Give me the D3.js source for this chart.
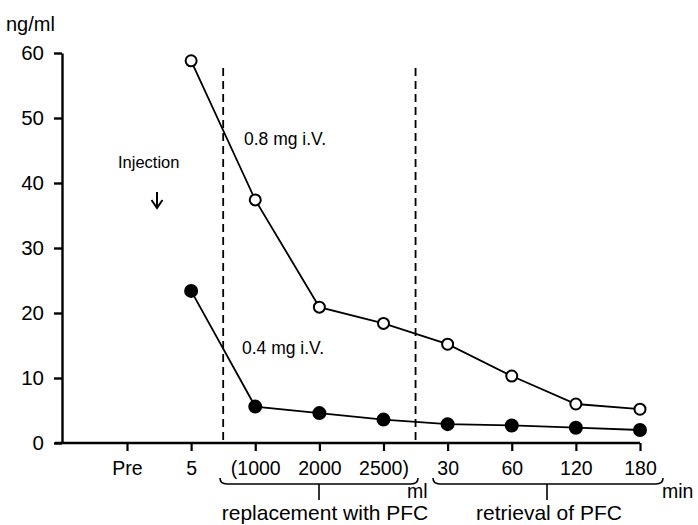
<!DOCTYPE html>
<html>
<head>
<meta charset="utf-8">
<script src="https://cdn.jsdelivr.net/npm/d3@7"></script>
<style>
  body { margin: 0; background: #fff; }
  text { font-family: "Liberation Sans", Arial, Helvetica, sans-serif; fill: #000; }
</style>
</head>
<body>
<div id="chart"></div>
<script>
// categories along the x axis and their printed labels
const categories = ["Pre", "5", "1000", "2000", "2500", "30", "60", "120", "180"];
const tickLabels = ["Pre", "5", "(1000", "2000", "2500)", "30", "60", "120", "180"];
const yTicks = [0, 10, 20, 30, 40, 50, 60];

// serum levels, ng/ml (null = no measurement)
const dose08 = [null, 58.8, 37.4, 20.9, 18.4, 15.2, 10.3, 6.0, 5.2];
const dose04 = [null, 23.4, 5.6, 4.6, 3.6, 2.9, 2.7, 2.35, 2.0];

const width = 698, height = 525;

const svg = d3.select("#chart")
  .append("svg")
    .attr("width", width)
    .attr("height", height);

const x = d3.scalePoint()
    .domain(categories)
    .range([127, 640]);

const y = d3.scaleLinear()
    .domain([0, 60])
    .range([443, 53]);

// y axis
const yAxis = svg.append("g")
    .attr("transform", "translate(62,0)")
    .call(d3.axisLeft(y).tickValues(yTicks).tickSize(8).tickPadding(10).tickSizeOuter(0));
yAxis.select(".domain").attr("stroke-width", 2.4);
yAxis.selectAll(".tick line").attr("stroke-width", 2.4);
yAxis.selectAll(".tick text")
    .style("font-size", "20.5px")
    .attr("fill", "#000");

// x axis
const xAxis = svg.append("g")
    .attr("transform", "translate(0,443)")
    .call(d3.axisBottom(x).tickSize(8).tickPadding(12).tickSizeOuter(0)
      .tickFormat((d, i) => tickLabels[i]));
xAxis.select(".domain").attr("d", `M55,0H${x("180")}`).attr("stroke-width", 2.4);
xAxis.selectAll(".tick line").attr("stroke-width", 2.2);
xAxis.selectAll(".tick text")
    .style("font-size", "19.5px")
    .attr("dy", null)
    .attr("y", 32)
    .attr("fill", "#000");

svg.append("text")
    .attr("x", 6).attr("y", 31)
    .style("font-size", "20px")
    .text("ng/ml");

// dashed phase separators, halfway between categories
const half = x.step() / 2;
[x("5") + half, x("2500") + half].forEach(xx => {
  svg.append("line")
      .attr("x1", xx).attr("x2", xx)
      .attr("y1", 68).attr("y2", 443)
      .attr("stroke", "#000")
      .attr("stroke-width", 1.8)
      .attr("stroke-dasharray", "8,5");
});

const line = d3.line()
    .defined(d => d[1] != null)
    .x(d => x(d[0]))
    .y(d => y(d[1]));

function drawSeries(values, fill) {
  const pts = categories.map((c, i) => [c, values[i]]);
  svg.append("path")
      .datum(pts)
      .attr("d", line)
      .attr("fill", "none")
      .attr("stroke", "#000")
      .attr("stroke-width", 1.8);
  svg.selectAll(null)
      .data(pts.filter(d => d[1] != null))
      .join("circle")
      .attr("cx", d => x(d[0]))
      .attr("cy", d => y(d[1]))
      .attr("r", fill === "#000" ? 6 : 5.5)
      .attr("fill", fill)
      .attr("stroke", "#000")
      .attr("stroke-width", 2);
}
drawSeries(dose08, "#fff");
drawSeries(dose04, "#000");

// annotations
svg.append("text").attr("x", 244).attr("y", 145).style("font-size", "17.5px").text("0.8 mg i.V.");
svg.append("text").attr("x", 242).attr("y", 354).style("font-size", "17.5px").text("0.4 mg i.V.");
svg.append("text").attr("x", 118).attr("y", 168).style("font-size", "16.5px").text("Injection");

// injection arrow
svg.append("line")
    .attr("x1", 157).attr("x2", 157)
    .attr("y1", 192).attr("y2", 207)
    .attr("stroke", "#000").attr("stroke-width", 2);
svg.append("path")
    .attr("d", "M151.5,200L157,208L162.5,200")
    .attr("fill", "none").attr("stroke", "#000").attr("stroke-width", 2);

// braces under the axis
function brace(x0, x1, xm, yy) {
  svg.append("path")
      .attr("d", `M${x0},${yy - 6}Q${x0},${yy} ${x0 + 7},${yy}H${x1 - 7}Q${x1},${yy} ${x1},${yy - 6}`)
      .attr("fill", "none").attr("stroke", "#000").attr("stroke-width", 1.6);
  svg.append("line")
      .attr("x1", xm).attr("x2", xm)
      .attr("y1", yy).attr("y2", yy + 16)
      .attr("stroke", "#000").attr("stroke-width", 1.6);
}
brace(220, 418, 319, 484);
brace(433, 663, 547, 484);

svg.append("text").attr("x", 407).attr("y", 498).style("font-size", "19.5px").text("ml");
svg.append("text").attr("x", 662).attr("y", 498).style("font-size", "19.5px").text("min");
svg.append("text").attr("x", 325).attr("y", 520).attr("text-anchor", "middle")
    .style("font-size", "21px").text("replacement with PFC");
svg.append("text").attr("x", 549).attr("y", 520).attr("text-anchor", "middle")
    .style("font-size", "21px").text("retrieval of PFC");
</script>
</body>
</html>
